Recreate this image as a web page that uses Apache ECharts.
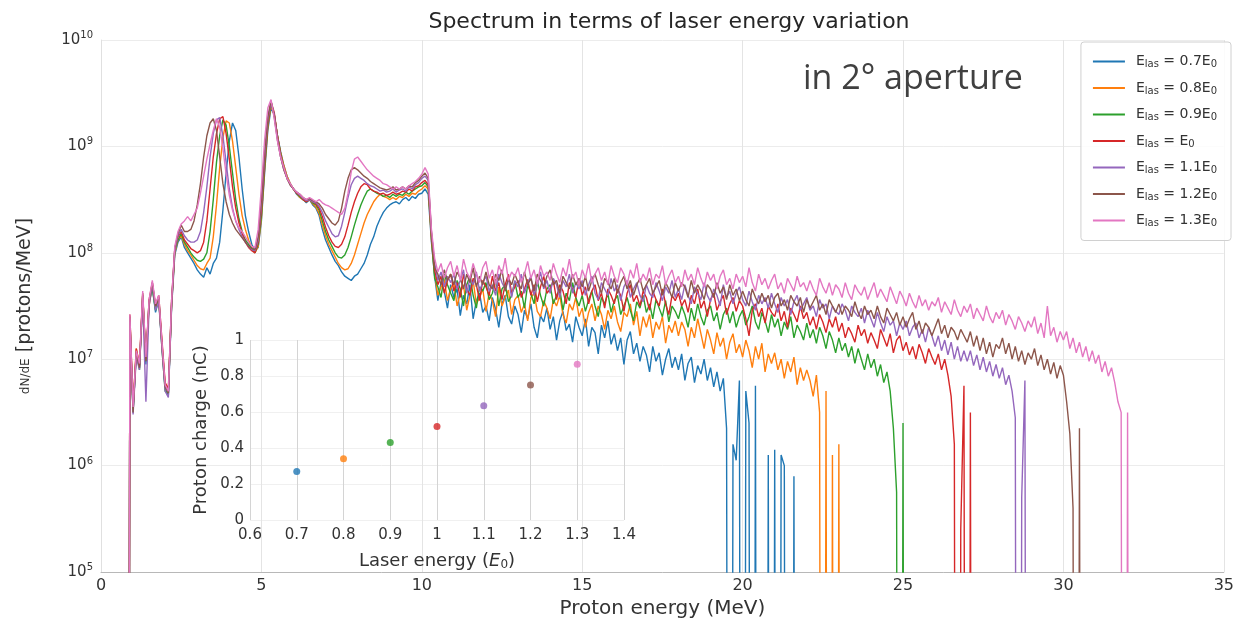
<!DOCTYPE html>
<html><head><meta charset="utf-8">
<script src="https://cdn.jsdelivr.net/npm/echarts/dist/echarts.min.js"></script>
<style>html,body{margin:0;padding:0;background:#fff}#c{width:1237px;height:624px}</style>
</head><body><div id="c"></div><script>
// Energy grid of the spectra: first sample 0.8 MeV, step 0.1 MeV
const E_START = 0.8, E_STEP = 0.1;
// Values are log10(dN/dE); -10 = empty bin (below the axis)
const logBlue = [
-10, 7.38,
6.52, 7.05, 6.92, 7.58, 6.95, 7.52, 7.68, 7.44, 7.56, 7.12,
6.72, 6.66, 7.48, 7.98, 8.10, 8.15, 8.05, 8.00, 7.95, 7.90,
7.84, 7.80, 7.77, 7.86, 7.80, 7.90, 7.95, 8.10, 8.40, 8.75,
9.05, 9.22, 9.15, 8.90, 8.60, 8.35, 8.20, 8.08, 8.02, 8.05,
8.30, 8.75, 9.15, 9.36, 9.30, 9.10, 8.95, 8.82, 8.72, 8.65,
8.60, 8.55, 8.52, 8.50, 8.47, 8.50, 8.45, 8.42, 8.35, 8.22,
8.12, 8.05, 7.98, 7.92, 7.88, 7.82, 7.78, 7.76, 7.74, 7.78,
7.80, 7.85, 7.90, 7.98, 8.08, 8.15, 8.25, 8.32, 8.38, 8.42,
8.45, 8.47, 8.48, 8.46, 8.50, 8.52, 8.49, 8.53, 8.51, 8.55,
8.56, 8.60, 8.55, 8.10, 7.78, 7.55, 7.72, 7.64, 7.48, 7.70,
7.58, 7.66, 7.41, 7.60, 7.52, 7.70, 7.38, 7.55, 7.62, 7.44,
7.50, 7.36, 7.58, 7.47, 7.30, 7.52, 7.60, 7.40, 7.33, 7.50,
7.42, 7.25, 7.46, 7.38, 7.52, 7.30, 7.20, 7.41, 7.35, 7.48,
7.28, 7.40, 7.18, 7.36, 7.45, 7.27, 7.33, 7.16, 7.40, 7.30,
7.22, 7.38, 7.12, 7.30, 7.25, 7.05, 7.32, 7.20, 7.36, 7.14,
7.24, 7.08, 7.20, 6.95, 7.18, 7.26, 7.05, 7.15, 6.98, 7.12,
7.04, 6.88, 7.12, 6.98, 7.06, 6.85, 7.00, 7.10, 6.92, 7.02,
6.90, 7.05, 6.80, 6.96, 7.02, 6.78, 6.94, 6.86, 7.00, 6.80,
6.92, 6.74, 6.88, 6.70, 6.82, 6.35, -10, 6.20, 6.05, 6.80,
-10, 6.70, 6.40, -10, 6.75, -10, -10, -10, 6.10, -10,
6.15, -10, 6.10, 6.00, -10, -10, 5.90, -10
];
const logOrange = [
-10, 7.40,
6.55, 7.10, 6.95, 7.62, 7.00, 7.50, 7.70, 7.48, 7.55, 7.15,
6.75, 6.70, 7.50, 8.00, 8.12, 8.16, 8.08, 8.02, 7.98, 7.93,
7.88, 7.85, 7.84, 7.90, 7.95, 8.15, 8.45, 8.80, 9.08, 9.24,
9.22, 9.05, 8.80, 8.55, 8.35, 8.22, 8.12, 8.05, 8.00, 8.06,
8.32, 8.78, 9.18, 9.38, 9.30, 9.10, 8.94, 8.82, 8.72, 8.65,
8.60, 8.56, 8.52, 8.50, 8.48, 8.50, 8.46, 8.43, 8.37, 8.26,
8.16, 8.08, 8.02, 7.96, 7.90, 7.86, 7.84, 7.85, 7.90, 7.98,
8.08, 8.18, 8.28, 8.36, 8.42, 8.48, 8.52, 8.55, 8.53, 8.52,
8.50, 8.52, 8.50, 8.53, 8.52, 8.55, 8.53, 8.56, 8.55, 8.58,
8.60, 8.63, 8.60, 8.12, 7.80, 7.60, 7.68, 7.75, 7.55, 7.66,
7.72, 7.50, 7.62, 7.70, 7.46, 7.60, 7.74, 7.52, 7.58, 7.66,
7.45, 7.62, 7.55, 7.40, 7.68, 7.50, 7.58, 7.65, 7.42, 7.56,
7.60, 7.44, 7.52, 7.36, 7.58, 7.62, 7.45, 7.40, 7.55, 7.48,
7.38, 7.56, 7.50, 7.60, 7.42, 7.34, 7.52, 7.46, 7.58, 7.40,
7.48, 7.30, 7.44, 7.52, 7.36, 7.50, 7.42, 7.28, 7.46, 7.38,
7.50, 7.35, 7.26, 7.44, 7.40, 7.52, 7.32, 7.45, 7.22, 7.40,
7.30, 7.42, 7.20, 7.35, 7.28, 7.40, 7.15, 7.32, 7.25, 7.36,
7.22, 7.35, 7.28, 7.12, 7.30, 7.20, 7.38, 7.24, 7.10, 7.28,
7.18, 7.05, 7.25, 7.12, 7.20, 7.00, 7.16, 7.24, 7.06, 7.14,
7.02, 7.18, 7.08, 6.92, 7.12, 7.00, 7.15, 6.88, 7.05, 6.96,
7.06, 6.90, 7.00, 6.82, 6.98, 6.88, 7.02, 6.76, 6.92, 6.80,
6.90, 6.80, 6.65, 6.85, 6.50, -10, 6.70, -10, 6.10, -10,
6.20, -10
];
const logGreen = [
-10, 7.36,
6.50, 7.08, 6.90, 7.60, 6.98, 7.55, 7.66, 7.46, 7.58, 7.10,
6.70, 6.68, 7.52, 8.02, 8.12, 8.18, 8.10, 8.05, 8.00, 7.96,
7.93, 7.92, 7.94, 8.00, 8.20, 8.50, 8.85, 9.10, 9.25, 9.20,
9.00, 8.75, 8.50, 8.32, 8.20, 8.12, 8.08, 8.04, 8.00, 8.08,
8.35, 8.80, 9.20, 9.40, 9.30, 9.10, 8.93, 8.80, 8.70, 8.64,
8.60, 8.56, 8.53, 8.50, 8.48, 8.50, 8.47, 8.45, 8.40, 8.30,
8.20, 8.12, 8.06, 8.00, 7.96, 7.95, 7.98, 8.05, 8.15, 8.26,
8.36, 8.45, 8.52, 8.58, 8.60, 8.58, 8.56, 8.55, 8.53, 8.54,
8.52, 8.55, 8.53, 8.55, 8.54, 8.57, 8.55, 8.58, 8.60, 8.62,
8.63, 8.66, 8.62, 8.15, 7.76, 7.68, 7.58, 7.80, 7.70, 7.62,
7.55, 7.74, 7.66, 7.50, 7.70, 7.78, 7.60, 7.48, 7.68, 7.64,
7.72, 7.56, 7.62, 7.75, 7.50, 7.66, 7.70, 7.54, 7.60, 7.73,
7.58, 7.64, 7.48, 7.70, 7.62, 7.52, 7.74, 7.60, 7.50, 7.66,
7.70, 7.52, 7.60, 7.66, 7.46, 7.62, 7.55, 7.72, 7.58, 7.50,
7.60, 7.45, 7.56, 7.64, 7.50, 7.40, 7.58, 7.52, 7.62, 7.44,
7.55, 7.60, 7.42, 7.50, 7.58, 7.46, 7.36, 7.54, 7.48, 7.60,
7.44, 7.52, 7.38, 7.56, 7.48, 7.40, 7.55, 7.35, 7.50, 7.45,
7.38, 7.50, 7.42, 7.30, 7.48, 7.36, 7.52, 7.40, 7.32, 7.46,
7.50, 7.36, 7.44, 7.28, 7.42, 7.48, 7.34, 7.45, 7.30, 7.40,
7.46, 7.32, 7.40, 7.50, 7.35, 7.28, 7.44, 7.36, 7.25, 7.42,
7.30, 7.38, 7.22, 7.35, 7.28, 7.40, 7.20, 7.32, 7.26, 7.18,
7.34, 7.20, 7.28, 7.15, 7.30, 7.22, 7.10, 7.26, 7.18, 7.06,
7.20, 7.08, 7.15, 7.02, 7.12, 6.96, 7.10, 7.00, 6.90, 7.05,
6.92, 7.00, 6.84, 6.95, 6.78, 6.88, 6.70, 6.35, 5.75, -10,
6.40, -10
];
const logRed = [
-10, 7.42,
6.55, 7.10, 6.94, 7.60, 7.00, 7.56, 7.72, 7.50, 7.60, 7.18,
6.78, 6.72, 7.55, 8.04, 8.15, 8.20, 8.12, 8.08, 8.04, 8.02,
8.00, 8.02, 8.10, 8.30, 8.60, 8.90, 9.12, 9.26, 9.28, 9.12,
8.88, 8.62, 8.42, 8.28, 8.18, 8.10, 8.05, 8.02, 8.00, 8.10,
8.40, 8.85, 9.22, 9.42, 9.32, 9.10, 8.92, 8.80, 8.70, 8.64,
8.60, 8.56, 8.54, 8.50, 8.48, 8.50, 8.48, 8.46, 8.42, 8.34,
8.24, 8.16, 8.10, 8.06, 8.05, 8.08, 8.15, 8.26, 8.38, 8.48,
8.56, 8.62, 8.65, 8.64, 8.60, 8.58, 8.57, 8.55, 8.56, 8.54,
8.55, 8.57, 8.55, 8.56, 8.58, 8.57, 8.60, 8.58, 8.62, 8.63,
8.66, 8.68, 8.64, 8.17, 7.84, 7.70, 7.78, 7.62, 7.74, 7.80,
7.64, 7.72, 7.58, 7.80, 7.66, 7.60, 7.76, 7.70, 7.55, 7.74,
7.68, 7.60, 7.78, 7.64, 7.72, 7.56, 7.70, 7.80, 7.62, 7.68,
7.74, 7.58, 7.66, 7.75, 7.60, 7.70, 7.54, 7.68, 7.78, 7.62,
7.66, 7.74, 7.56, 7.70, 7.64, 7.52, 7.72, 7.66, 7.58, 7.75,
7.60, 7.68, 7.52, 7.64, 7.70, 7.55, 7.62, 7.48, 7.66, 7.60,
7.52, 7.66, 7.60, 7.45, 7.62, 7.70, 7.54, 7.60, 7.50, 7.64,
7.58, 7.46, 7.64, 7.56, 7.50, 7.66, 7.52, 7.42, 7.60, 7.55,
7.62, 7.50, 7.56, 7.44, 7.60, 7.52, 7.66, 7.48, 7.55, 7.40,
7.56, 7.62, 7.46, 7.54, 7.60, 7.42, 7.52, 7.58, 7.45, 7.55,
7.50, 7.38, 7.22, 7.46, 7.52, 7.40, 7.48, 7.34, 7.50, 7.44,
7.40, 7.52, 7.36, 7.45, 7.30, 7.48, 7.42, 7.35, 7.50, 7.38,
7.44, 7.32, 7.40, 7.28, 7.42, 7.35, 7.25, 7.38, 7.30, 7.40,
7.26, 7.34, 7.20, 7.30, 7.24, 7.16, 7.32, 7.22, 7.28, 7.15,
7.25, 7.18, 7.10, 7.28, 7.20, 7.12, 7.24, 7.06, 7.18, 7.22,
7.08, 7.16, 7.04, 7.12, 7.00, 7.14, 7.06, 6.96, 7.10, 7.02,
6.95, 7.05, 6.90, 7.00, 6.85, 6.65, 6.20, -10, 5.40, 6.75,
-10, 6.50, -10
];
const logPurple = [
-10, 7.35,
6.48, 7.02, 6.90, 7.56, 6.60, 7.50, 7.70, 7.46, 7.54, 7.10,
6.70, 6.64, 7.50, 8.02, 8.16, 8.22, 8.16, 8.12, 8.10, 8.10,
8.12, 8.20, 8.38, 8.62, 8.90, 9.12, 9.25, 9.27, 9.10, 8.85,
8.60, 8.42, 8.30, 8.22, 8.15, 8.10, 8.06, 8.03, 8.02, 8.12,
8.45, 8.90, 9.25, 9.42, 9.30, 9.08, 8.90, 8.78, 8.70, 8.64,
8.60, 8.57, 8.54, 8.51, 8.49, 8.50, 8.48, 8.47, 8.44, 8.38,
8.30, 8.24, 8.18, 8.15, 8.16, 8.25, 8.38, 8.52, 8.64, 8.70,
8.72, 8.70, 8.68, 8.65, 8.63, 8.62, 8.60, 8.58, 8.59, 8.57,
8.58, 8.60, 8.57, 8.59, 8.60, 8.58, 8.62, 8.60, 8.64, 8.66,
8.70, 8.72, 8.68, 8.19, 7.90, 7.74, 7.82, 7.68, 7.78, 7.72,
7.80, 7.66, 7.74, 7.84, 7.62, 7.76, 7.70, 7.82, 7.64, 7.72,
7.78, 7.64, 7.70, 7.60, 7.80, 7.72, 7.66, 7.76, 7.58, 7.74,
7.68, 7.80, 7.62, 7.72, 7.78, 7.60, 7.70, 7.82, 7.66, 7.74,
7.62, 7.76, 7.70, 7.58, 7.74, 7.68, 7.80, 7.62, 7.72, 7.66,
7.74, 7.60, 7.70, 7.78, 7.62, 7.56, 7.72, 7.66, 7.60, 7.76,
7.64, 7.70, 7.55, 7.68, 7.74, 7.58, 7.66, 7.72, 7.60, 7.54,
7.70, 7.62, 7.58, 7.72, 7.64, 7.55, 7.68, 7.62, 7.74, 7.58,
7.66, 7.56, 7.70, 7.60, 7.52, 7.68, 7.62, 7.56, 7.72, 7.60,
7.54, 7.66, 7.60, 7.50, 7.70, 7.58, 7.64, 7.52, 7.62, 7.68,
7.56, 7.50, 7.64, 7.54, 7.46, 7.60, 7.52, 7.58, 7.48, 7.62,
7.52, 7.44, 7.58, 7.50, 7.56, 7.42, 7.54, 7.60, 7.46, 7.52,
7.58, 7.46, 7.50, 7.40, 7.56, 7.48, 7.52, 7.38, 7.50, 7.45,
7.42, 7.52, 7.46, 7.36, 7.50, 7.44, 7.40, 7.48, 7.34, 7.46,
7.38, 7.30, 7.44, 7.34, 7.26, 7.40, 7.32, 7.36, 7.22, 7.34,
7.28, 7.36, 7.22, 7.30, 7.34, 7.20, 7.28, 7.16, 7.30, 7.22,
7.12, 7.22, 7.08, 7.18, 7.04, 7.16, 7.00, 7.12, 6.98, 7.08,
6.98, 7.08, 6.94, 7.04, 6.90, 7.02, 6.88, 6.98, 6.84, 6.95,
6.82, 6.92, 6.76, 6.85, 6.70, 6.45, -10, 5.70, 6.80, -10
];
const logBrown = [
-10, 7.40,
6.50, 7.06, 6.92, 7.62, 6.98, 7.54, 7.72, 7.50, 7.58, 7.14,
6.74, 6.68, 7.52, 8.04, 8.18, 8.26, 8.20, 8.20, 8.22, 8.30,
8.45, 8.65, 8.90, 9.10, 9.22, 9.26, 9.15, 8.90, 8.65, 8.48,
8.36, 8.28, 8.22, 8.18, 8.14, 8.10, 8.06, 8.04, 8.03, 8.15,
8.50, 8.95, 9.28, 9.43, 9.28, 9.06, 8.90, 8.78, 8.70, 8.64,
8.60, 8.57, 8.55, 8.52, 8.50, 8.51, 8.49, 8.48, 8.46, 8.42,
8.36, 8.32, 8.28, 8.26, 8.30, 8.42, 8.58, 8.70, 8.78, 8.80,
8.78, 8.75, 8.72, 8.70, 8.67, 8.65, 8.63, 8.61, 8.60, 8.59,
8.60, 8.62, 8.59, 8.60, 8.62, 8.60, 8.63, 8.62, 8.66, 8.68,
8.72, 8.75, 8.70, 8.20, 7.86, 7.80, 7.70, 7.84, 7.74, 7.80,
7.70, 7.82, 7.76, 7.66, 7.80, 7.72, 7.86, 7.68, 7.78, 7.70,
7.82, 7.70, 7.66, 7.80, 7.74, 7.84, 7.64, 7.76, 7.70, 7.80,
7.72, 7.66, 7.82, 7.70, 7.76, 7.64, 7.80, 7.74, 7.68, 7.78,
7.84, 7.70, 7.74, 7.62, 7.78, 7.72, 7.66, 7.80, 7.70, 7.76,
7.68, 7.78, 7.64, 7.74, 7.80, 7.70, 7.62, 7.76, 7.72, 7.66,
7.76, 7.62, 7.72, 7.78, 7.66, 7.74, 7.60, 7.70, 7.76, 7.64,
7.70, 7.76, 7.62, 7.68, 7.74, 7.60, 7.72, 7.66, 7.58, 7.72,
7.64, 7.72, 7.68, 7.58, 7.74, 7.62, 7.70, 7.64, 7.56, 7.70,
7.66, 7.58, 7.72, 7.62, 7.68, 7.56, 7.70, 7.60, 7.66, 7.55,
7.64, 7.56, 7.50, 7.66, 7.58, 7.52, 7.62, 7.54, 7.60, 7.48,
7.58, 7.62, 7.50, 7.56, 7.46, 7.60, 7.54, 7.50, 7.58, 7.44,
7.56, 7.48, 7.54, 7.60, 7.46, 7.52, 7.42, 7.56, 7.50, 7.44,
7.52, 7.42, 7.50, 7.46, 7.40, 7.54, 7.44, 7.38, 7.50, 7.42,
7.46, 7.38, 7.50, 7.40, 7.34, 7.48, 7.42, 7.36, 7.44, 7.32,
7.40, 7.30, 7.38, 7.44, 7.28, 7.36, 7.24, 7.34, 7.30, 7.22,
7.30, 7.38, 7.24, 7.32, 7.20, 7.30, 7.26, 7.18, 7.28, 7.22,
7.16, 7.26, 7.12, 7.22, 7.08, 7.20, 7.05, 7.16, 7.02, 7.14,
7.10, 7.20, 7.05, 7.15, 7.00, 7.12, 6.98, 7.08, 6.95, 7.06,
7.00, 7.10, 6.94, 7.04, 6.90, 7.00, 6.86, 6.97, 6.82, 6.94,
6.85, 6.60, 6.30, 5.60, -10, 6.35, -10
];
const logPink = [
-10, 7.42,
6.55, 7.08, 6.96, 7.64, 7.02, 7.56, 7.74, 7.52, 7.60, 7.16,
6.76, 6.70, 7.55, 8.06, 8.20, 8.27, 8.30, 8.34, 8.30, 8.36,
8.42, 8.56, 8.72, 8.88, 9.02, 9.15, 9.26, 9.18, 8.98, 8.74,
8.54, 8.40, 8.30, 8.23, 8.20, 8.15, 8.10, 8.06, 8.05, 8.22,
8.62, 9.06, 9.36, 9.44, 9.26, 9.05, 8.90, 8.80, 8.70, 8.65,
8.60, 8.57, 8.55, 8.52, 8.50, 8.52, 8.50, 8.48, 8.50, 8.47,
8.45, 8.44, 8.42, 8.40, 8.38, 8.36, 8.42, 8.56, 8.76, 8.88,
8.90, 8.86, 8.82, 8.78, 8.75, 8.72, 8.70, 8.68, 8.65, 8.64,
8.62, 8.60, 8.62, 8.60, 8.62, 8.60, 8.63, 8.65, 8.67, 8.70,
8.74, 8.80, 8.74, 8.22, 7.95, 7.82, 7.90, 7.76, 7.86, 7.92,
7.78, 7.88, 7.74, 7.94, 7.82, 7.76, 7.90, 7.80, 7.72, 7.86,
7.92, 7.76, 7.84, 7.70, 7.88, 7.80, 7.95, 7.74, 7.82, 7.78,
7.86, 7.72, 7.80, 7.92, 7.76, 7.84, 7.70, 7.88, 7.78, 7.82,
7.74, 7.90, 7.80, 7.72, 7.86, 7.78, 7.94, 7.76, 7.82, 7.70,
7.84, 7.76, 7.90, 7.72, 7.80, 7.86, 7.74, 7.82, 7.70, 7.88,
7.78, 7.72, 7.86, 7.80, 7.70, 7.84, 7.76, 7.90, 7.72, 7.80,
7.74, 7.86, 7.70, 7.80, 7.76, 7.88, 7.70, 7.78, 7.84, 7.72,
7.78, 7.68, 7.84, 7.74, 7.80, 7.70, 7.86, 7.76, 7.68, 7.82,
7.74, 7.80, 7.66, 7.78, 7.84, 7.70, 7.76, 7.66, 7.80, 7.72,
7.78, 7.68, 7.86, 7.72, 7.64, 7.80, 7.70, 7.76, 7.66, 7.74,
7.80, 7.66, 7.72, 7.62, 7.76, 7.70, 7.64, 7.78, 7.68, 7.72,
7.64, 7.74, 7.66, 7.60, 7.76, 7.68, 7.62, 7.72, 7.60, 7.70,
7.66, 7.58, 7.72, 7.62, 7.56, 7.70, 7.64, 7.60, 7.68, 7.56,
7.64, 7.72, 7.58, 7.66, 7.60, 7.54, 7.68, 7.60, 7.52, 7.64,
7.58, 7.50, 7.62, 7.54, 7.48, 7.60, 7.50, 7.56, 7.46, 7.54,
7.50, 7.58, 7.44, 7.54, 7.48, 7.42, 7.56, 7.46, 7.40, 7.50,
7.44, 7.52, 7.38, 7.48, 7.42, 7.36, 7.50, 7.40, 7.34, 7.44,
7.38, 7.46, 7.32, 7.42, 7.36, 7.28, 7.40, 7.34, 7.26, 7.36,
7.30, 7.40, 7.24, 7.34, 7.20, 7.50, 7.22, 7.30, 7.16, 7.26,
7.18, 7.26, 7.10, 7.20, 7.06, 7.16, 7.02, 7.12, 6.98, 7.08,
6.96, 7.04, 6.88, 6.98, 6.84, 6.92, 6.78, 6.60, 6.50, -10,
6.50, -10
];

const spectra = [logBlue, logOrange, logGreen, logRed, logPurple, logBrown, logPink];
const seriesNames = ['0.7E0', '0.8E0', '0.9E0', 'E0', '1.1E0', '1.2E0', '1.3E0'];
const legendFactors = ['0.7', '0.8', '0.9', '', '1.1', '1.2', '1.3'];
const seriesColors = ['#1f77b4', '#ff7f0e', '#2ca02c', '#d62728', '#9467bd', '#8c564b', '#e377c2'];

// Inset: total proton charge vs laser energy
const laserEnergy = [0.7, 0.8, 0.9, 1.0, 1.1, 1.2, 1.3];
const protonCharge = [0.27, 0.34, 0.43, 0.52, 0.635, 0.75, 0.865];

const chart = echarts.init(document.getElementById('c'), null, {renderer: 'canvas'});
const FONT = 'DejaVu Sans';

const series = spectra.map((arr, k) => ({
  type: 'line',
  name: seriesNames[k],
  xAxisIndex: 0, yAxisIndex: 0,
  data: arr.map((v, i) => [E_START + i * E_STEP, v]),
  symbol: 'none',
  lineStyle: {width: 1.4, color: seriesColors[k]},
  itemStyle: {color: seriesColors[k]},
  z: 2 + k,
  clip: true,
  animation: false
}));
series.push({
  type: 'scatter',
  xAxisIndex: 1, yAxisIndex: 1,
  symbolSize: 7,
  data: laserEnergy.map((x, i) => ({value: [x, protonCharge[i]], itemStyle: {color: seriesColors[i]}})),
  z: 20,
  animation: false
});

const labelColor = '#333';
chart.setOption({
  backgroundColor: '#fff',
  animation: false,
  title: {
    text: 'Spectrum in terms of laser energy variation',
    left: 664, top: 6, textAlign: 'center',
    textStyle: {fontFamily: FONT, fontSize: 22, fontWeight: 'normal', color: '#262626'}
  },
  graphic: [{
    type: 'text', left: 803, top: 62, z: 50,
    style: {text: 'in 2\u00b0 aperture', font: '34px "Open Sans"', fill: '#404040'}
  }],
  legend: {
    data: seriesNames,
    orient: 'vertical',
    right: 6, top: 42,
    icon: 'rect',
    itemWidth: 32, itemHeight: 2, itemGap: 11,
    padding: [12, 14, 12, 12],
    backgroundColor: 'rgba(255,255,255,0.85)',
    borderColor: '#d0d0d0', borderWidth: 1, borderRadius: 3,
    formatter: name => {
      const k = seriesNames.indexOf(name);
      return '{a|E}{s|las}{a| = ' + legendFactors[k] + 'E}{s|0}';
    },
    textStyle: {
      fontFamily: FONT, color: labelColor, fontSize: 14, lineHeight: 15, padding: [0, 0, 0, 6],
      rich: {a: {fontFamily: FONT, fontSize: 14, color: labelColor, lineHeight: 15}, s: {fontFamily: FONT, fontSize: 10, color: labelColor, padding: [6, 0, 0, 0]}}
    }
  },
  grid: [
    {left: 101, right: 9, top: 40, bottom: 52},
    {left: 250, top: 340, width: 374, height: 180}
  ],
  xAxis: [{
    type: 'value', gridIndex: 0, min: 0, max: 35, interval: 5,
    axisLine: {show: true, lineStyle: {color: '#b8b8b8', width: 1}},
    axisTick: {show: false},
    splitLine: {show: true, lineStyle: {color: '#e4e4e4', width: 1}},
    axisLabel: {fontFamily: FONT, fontSize: 16, color: labelColor, margin: 6},
    name: 'Proton energy (MeV)', nameLocation: 'middle', nameGap: 27,
    nameTextStyle: {fontFamily: FONT, fontSize: 20, color: labelColor}
  }, {
    type: 'value', gridIndex: 1, min: 0.6, max: 1.4, interval: 0.1,
    axisLine: {show: false}, axisTick: {show: false},
    splitLine: {show: true, lineStyle: {color: '#d4d4d4', width: 1}},
    axisLabel: {fontFamily: FONT, fontSize: 15, color: labelColor, margin: 8, formatter: v => String(+v.toFixed(1))},
    name: '{t|Laser energy (}{i|E}{s|0}{t|)}', nameLocation: 'middle', nameGap: 32,
    nameTextStyle: {fontFamily: FONT, fontSize: 18, color: labelColor,
      rich: {t: {fontFamily: FONT, fontSize: 18, color: labelColor}, i: {fontFamily: FONT, fontSize: 18, fontStyle: 'italic', color: labelColor}, s: {fontFamily: FONT, fontSize: 12, color: labelColor, padding: [7, 0, 0, 0]}}}
  }],
  yAxis: [{
    type: 'value', gridIndex: 0, min: 5, max: 10, interval: 1,
    axisLine: {show: true, lineStyle: {color: '#e0e0e0', width: 1}},
    axisTick: {show: false},
    splitLine: {show: true, lineStyle: {color: '#ececec', width: 1}},
    axisLabel: {
      margin: 8, color: labelColor,
      formatter: v => '{b|10}{p|' + v + '}',
      rich: {b: {fontFamily: FONT, fontSize: 15, color: labelColor}, p: {fontFamily: FONT, fontSize: 10, color: labelColor, padding: [0, 0, 9, 0]}}
    },
    name: '{f|dN/dE} [protons/MeV]', nameLocation: 'middle', nameGap: 66, nameRotate: 90,
    nameTextStyle: {fontFamily: FONT, fontSize: 19, color: labelColor, rich: {f: {fontFamily: FONT, fontSize: 12, color: labelColor}}}
  }, {
    type: 'value', gridIndex: 1, min: 0, max: 1, interval: 0.2,
    axisLine: {show: false}, axisTick: {show: false},
    splitLine: {show: true, lineStyle: {color: '#f0f0f0', width: 1}},
    axisLabel: {fontFamily: FONT, fontSize: 15, color: labelColor, margin: 6, formatter: v => String(+v.toFixed(1))},
    name: 'Proton charge (nC)', nameLocation: 'middle', nameGap: 40, nameRotate: 90,
    nameTextStyle: {fontFamily: FONT, fontSize: 18, color: labelColor}
  }],
  series: series
});
</script></body></html>
